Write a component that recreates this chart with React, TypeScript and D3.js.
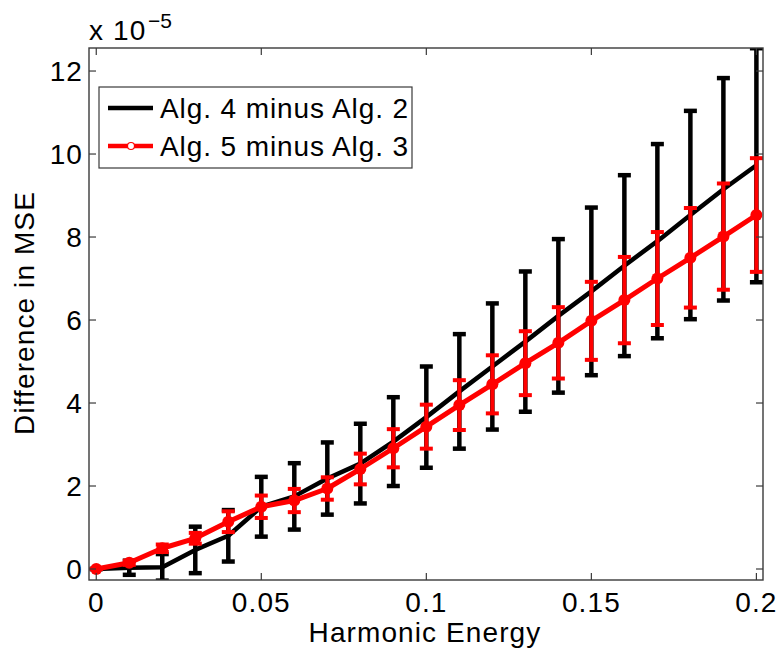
import React from "react";
import * as d3 from "d3";

const energy = [0, 0.01, 0.02, 0.03, 0.04, 0.05, 0.06, 0.07, 0.08, 0.09, 0.1, 0.11, 0.12, 0.13, 0.14, 0.15, 0.16, 0.17, 0.18, 0.19, 0.2];
const alg4minus2 = [0, 0.03, 0.04, 0.46, 0.8, 1.5, 1.75, 2.18, 2.54, 3.07, 3.66, 4.28, 4.88, 5.48, 6.1, 6.69, 7.31, 7.9, 8.53, 9.15, 9.73];
const alg4minus2Err = [0, 0.17, 0.32, 0.56, 0.62, 0.72, 0.8, 0.87, 0.96, 1.07, 1.22, 1.38, 1.52, 1.69, 1.85, 2.02, 2.18, 2.34, 2.51, 2.68, 2.82];
const alg5minus3 = [0, 0.15, 0.5, 0.74, 1.14, 1.5, 1.65, 1.94, 2.41, 2.91, 3.43, 3.95, 4.45, 4.96, 5.45, 5.98, 6.48, 7.0, 7.5, 8.01, 8.53];
const alg5minus3Err = [0, 0.05, 0.09, 0.13, 0.25, 0.27, 0.28, 0.27, 0.37, 0.46, 0.53, 0.6, 0.7, 0.77, 0.86, 0.94, 1.04, 1.12, 1.2, 1.28, 1.37];
const xTicks = [0, 0.05, 0.1, 0.15, 0.2];
const xTickLabels = ["0", "0.05", "0.1", "0.15", "0.2"];
const yTicks = [0, 2, 4, 6, 8, 10, 12];
const seriesNames = ["Alg. 4 minus Alg. 2", "Alg. 5 minus Alg. 3"];

const FONT = "'Liberation Sans', Arial, Helvetica, sans-serif";

export default function App() {
  const W = 783, H = 654;
  const L = 89, R = 763, T = 48, B = 580;
  const x = d3.scaleLinear().domain([-0.0022, 0.202]).range([L, R]);
  const y = d3.scaleLinear().domain([-0.265, 12.555]).range([B, T]);
  const line = d3.line<number>().x((_, i) => x(energy[i])).y((v) => y(v));
  const axisColor = "#3a3a3a";
  const tickLen = 7;
  const capW = 6.5;
  const LS = 1.1;

  const errBars = (vals: number[], errs: number[], color: string, sw: number, capSw: number) =>
    vals.map((v, i) => {
      const cx = x(energy[i]);
      const y1 = y(v - errs[i]);
      const y2 = y(v + errs[i]);
      return (
        <g key={i}>
          <line x1={cx} x2={cx} y1={y1} y2={y2} stroke={color} strokeWidth={sw} />
          <line x1={cx - capW} x2={cx + capW} y1={y1} y2={y1} stroke={color} strokeWidth={capSw} />
          <line x1={cx - capW} x2={cx + capW} y1={y2} y2={y2} stroke={color} strokeWidth={capSw} />
        </g>
      );
    });

  return (
    <svg width={W} height={H} style={{ position: "absolute", left: 0, top: 0, background: "#fff" }} fontFamily={FONT}>
      <defs>
        <clipPath id="plotclip">
          <rect x={L} y={T} width={R - L} height={B - T} />
        </clipPath>
      </defs>
      <rect x={0} y={0} width={W} height={H} fill="#fff" />
      <g clipPath="url(#plotclip)">
        <path d={line(alg4minus2) || ""} fill="none" stroke="#000" strokeWidth={4.5} strokeLinejoin="round" />
        {errBars(alg4minus2, alg4minus2Err, "#000", 4.5, 4.5)}
        <path d={line(alg5minus3) || ""} fill="none" stroke="#ff0000" strokeWidth={5} strokeLinejoin="round" />
        {errBars(alg5minus3, alg5minus3Err, "#ff0000", 4, 4)}
        {alg5minus3.map((v, i) => (
          <circle key={i} cx={x(energy[i])} cy={y(v)} r={6} fill="#ff0000" />
        ))}
      </g>
      <rect x={L} y={T} width={R - L} height={B - T} fill="none" stroke={axisColor} strokeWidth={1.4} />
      {xTicks.map((t, i) => (
        <g key={"xt" + i}>
          <line x1={x(t)} x2={x(t)} y1={B} y2={B - tickLen} stroke={axisColor} strokeWidth={1.2} />
          <line x1={x(t)} x2={x(t)} y1={T} y2={T + tickLen} stroke={axisColor} strokeWidth={1.2} />
          <text x={x(t)} y={612} fontSize={28} letterSpacing={LS} textAnchor="middle" fill="#000">{xTickLabels[i]}</text>
        </g>
      ))}
      {yTicks.map((t, i) => (
        <g key={"yt" + i}>
          <line x1={L} x2={L + tickLen} y1={y(t)} y2={y(t)} stroke={axisColor} strokeWidth={1.2} />
          <line x1={R} x2={R - tickLen} y1={y(t)} y2={y(t)} stroke={axisColor} strokeWidth={1.2} />
          <text x={83} y={y(t) + 10} fontSize={28} letterSpacing={LS} textAnchor="end" fill="#000">{t}</text>
        </g>
      ))}
      <text x={89} y={40} fontSize={28} letterSpacing={LS} fill="#000">x 10</text>
      <text x={148} y={28} fontSize={21} fill="#000">−5</text>
      <text x={425} y={642} fontSize={28} letterSpacing={LS} textAnchor="middle" fill="#000">Harmonic Energy</text>
      <text transform={`translate(34,313) rotate(-90)`} fontSize={28} letterSpacing={LS} textAnchor="middle" fill="#000">Difference in MSE</text>
      <rect x={99} y={87} width={313} height={81} fill="#fff" stroke={axisColor} strokeWidth={1.2} />
      <line x1={108} x2={153} y1={108} y2={108} stroke="#000" strokeWidth={4.5} />
      <text x={160} y={118} fontSize={28} letterSpacing={0.9} fill="#000">{seriesNames[0]}</text>
      <line x1={108} x2={153} y1={146} y2={146} stroke="#ff0000" strokeWidth={4.5} />
      <circle cx={131} cy={146} r={3.5} fill="#fff" stroke="#ff0000" strokeWidth={1.2} />
      <text x={160} y={156} fontSize={28} letterSpacing={0.9} fill="#000">{seriesNames[1]}</text>
    </svg>
  );
}
